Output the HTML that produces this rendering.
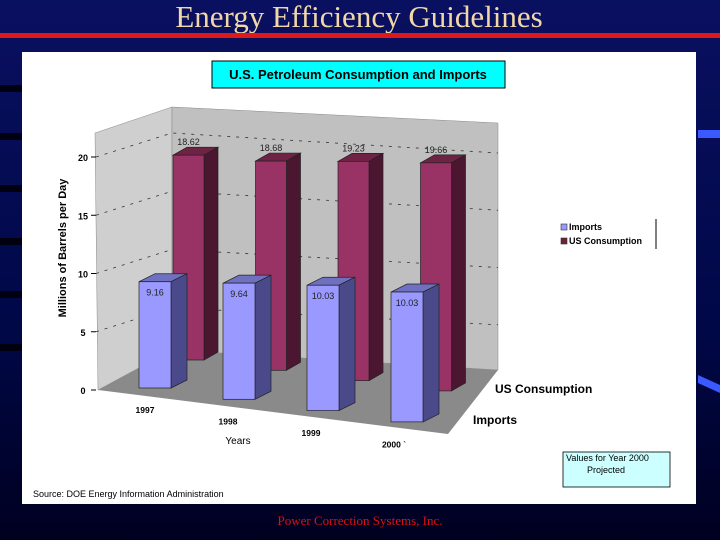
<!DOCTYPE html>
<html><head><meta charset="utf-8"><style>
html,body{margin:0;padding:0;width:720px;height:540px;overflow:hidden;background:#000040}
svg{display:block}
text{font-family:"Liberation Sans",Arial,sans-serif}
</style></head><body>
<svg id="c" width="720" height="540" viewBox="0 0 720 540" xmlns="http://www.w3.org/2000/svg">
<defs>
<linearGradient id="bg" x1="0" y1="0" x2="0" y2="1"><stop offset="0" stop-color="#0a1060"/><stop offset="0.6" stop-color="#000848"/><stop offset="1" stop-color="#000020"/></linearGradient>
</defs>
<rect width="720" height="540" fill="url(#bg)"/>
<g fill="#000010">
<rect x="0" y="85" width="22" height="7"/><rect x="0" y="133" width="22" height="7"/><rect x="0" y="185" width="22" height="7"/><rect x="0" y="238" width="22" height="7"/><rect x="0" y="291" width="22" height="7"/><rect x="0" y="344" width="22" height="7"/>
</g>
<rect x="698" y="130" width="22" height="8" fill="#3a5aff"/>
<polygon points="698,375 720,385 720,393 698,383" fill="#3a5aff"/>
<text x="359" y="27" text-anchor="middle" font-size="31" fill="#f2d8a8" style="font-family:'Liberation Serif',serif">Energy Efficiency Guidelines</text>
<rect x="0" y="33" width="720" height="5" fill="#e01818"/>
<rect x="22" y="52" width="674" height="452" fill="#ffffff"/>
<rect x="212" y="61" width="293" height="27" fill="#00ffff" stroke="#000" stroke-width="1"/>
<text x="358" y="79" text-anchor="middle" font-size="13" font-weight="bold" fill="#000">U.S. Petroleum Consumption and Imports</text>
<polygon points="95,133 172,107 172,350 98,390" fill="#cfcfcf" stroke="#888" stroke-width="0.5"/>
<polygon points="172,107 498,123 498,370 172,350" fill="#c0c0c0" stroke="#888" stroke-width="0.5"/>
<polygon points="98,390 172,350 498,370 448,434" fill="#8a8a8a"/>
<g id="grid"></g>
<g id="bars"></g>
<g>
<line x1="656" y1="219" x2="656" y2="249" stroke="#000"/>
<rect x="561" y="224" width="6" height="6" fill="#9999ff" stroke="#333" stroke-width="0.6"/>
<text x="569" y="230" font-size="9" font-weight="bold" fill="#000">Imports</text>
<rect x="561" y="238" width="6" height="6" fill="#6e2040" stroke="#333" stroke-width="0.6"/>
<text x="569" y="244" font-size="9" font-weight="bold" fill="#000">US Consumption</text>
</g>
<text x="495" y="393" font-size="12" font-weight="bold" fill="#000">US Consumption</text>
<text x="473" y="424" font-size="12" font-weight="bold" fill="#000">Imports</text>
<text x="238" y="444" text-anchor="middle" font-size="10" fill="#000">Years</text>
<text transform="translate(66,248) rotate(-90)" text-anchor="middle" font-size="11" font-weight="bold" fill="#000">Millions of Barrels per Day</text>
<rect x="563" y="452" width="107" height="35" fill="#ccffff" stroke="#000" stroke-width="0.8"/>
<text x="566" y="461" font-size="9" fill="#000">Values for Year 2000</text>
<text x="587" y="473" font-size="9" fill="#000">Projected</text>
<text x="33" y="497" font-size="9" fill="#000">Source: DOE Energy Information Administration</text>
<text x="360" y="525" text-anchor="middle" font-size="13" fill="#e01010" style="font-family:'Liberation Serif',serif">Power Correction Systems, Inc.</text>
</svg>
<script>
const years = ['1997','1998','1999','2000 `'];
const imports = [9.16, 9.64, 10.03, 10.03];
const consumption = [18.62, 18.68, 19.23, 19.66];
const yTicks = [0, 5, 10, 15, 20];
const NS='http://www.w3.org/2000/svg';
function mk(tag, attrs, parent){const e=document.createElementNS(NS,tag);for(const k in attrs)e.setAttribute(k,attrs[k]);parent.appendChild(e);return e;}
function frontX(i){return 139 + i*84;}
function frontBase(i){return 388 + i*11.3;}
function frontScale(i){return 11.6 + i*0.45;}
function backX(i){return 173 + i*82.5;}
function backBase(i){return 360 + i*10.3;}
function backScale(i){return 11.0 + i*0.2;}
function axisY(v){return 390 - v*11.65;}
const grid=document.getElementById('grid');
const bars=document.getElementById('bars');
yTicks.forEach(function(t){
  const y=axisY(t);
  const lab=mk('text',{x:83,y:y+4,'font-size':9,'font-weight':'bold','text-anchor':'middle',fill:'#000'},grid);
  lab.textContent=t;
  
  
  if(t>0){
    const l1=mk('polyline',{points:(96)+','+y+' 172,'+(y-24)+' 498,'+(y-24+16+t*0.2),fill:'none',stroke:'#333','stroke-width':0.8,'stroke-dasharray':'3,6'},grid);
    
    
  }
  const tk=mk('line',{x1:91,y1:y,x2:96,y2:y,stroke:'#000'},grid);
  
  
});
function bar(x,base,h,w,d,front,side,topc,label,ly,name){
  const top=base-h;
  const g=mk('g',{},bars);
  
  
  mk('polygon',{points:x+','+top+' '+(x+w)+','+top+' '+(x+w+d)+','+(top-8)+' '+(x+d)+','+(top-8),fill:topc,stroke:'#222','stroke-width':0.7},g);
  mk('polygon',{points:(x+w)+','+top+' '+(x+w+d)+','+(top-8)+' '+(x+w+d)+','+(base-8)+' '+(x+w)+','+base,fill:side,stroke:'#222','stroke-width':0.7},g);
  mk('rect',{x:x,y:top,width:w,height:h,fill:front,stroke:'#222','stroke-width':0.7},g);
  const t=mk('text',{x:x+w/2,y:ly,'font-size':9,'text-anchor':'middle',fill:'#222'},bars);
  t.textContent=label;
  
  
}
consumption.forEach(function(v,i){
  const h=v*backScale(i);
  bar(backX(i),backBase(i),h,31,14,'#993366','#4a1630','#6e2244',v.toFixed(2),backBase(i)-h-10,'bar-consumption-'+years[i].slice(0,4));
});
imports.forEach(function(v,i){
  const h=v*frontScale(i);
  bar(frontX(i),frontBase(i),h,32,16,'#9999ff','#4a4a8a','#7070c0',v.toFixed(2),frontBase(i)-h+14,'bar-imports-'+years[i].slice(0,4));
});
years.forEach(function(y,i){
  const t=mk('text',{x:145+i*83,y:413+i*11.5,'font-size':8.5,'font-weight':'bold','text-anchor':'middle',fill:'#000'},bars);
  t.textContent=y;
  
  
});
</script>
</body></html>
